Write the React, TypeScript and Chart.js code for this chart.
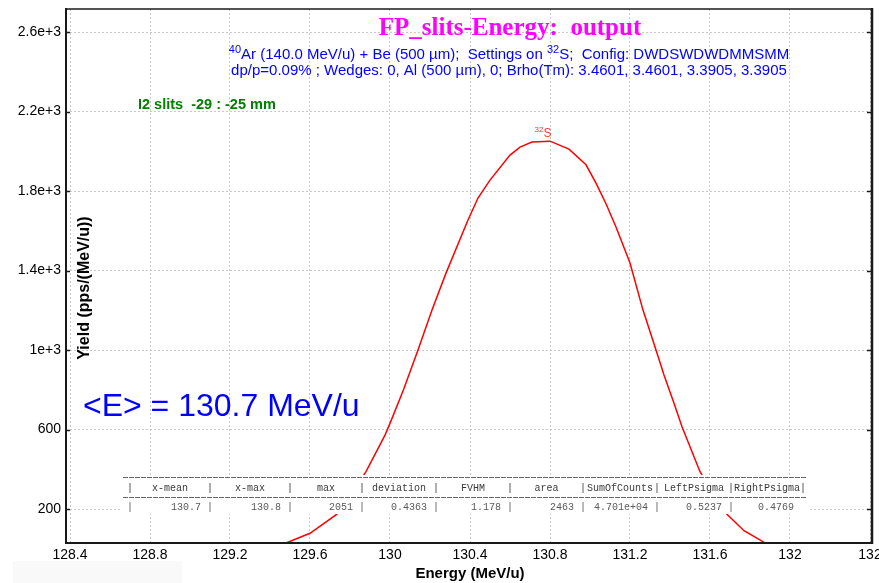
import React, { useEffect, useRef } from "react";
import { Chart, registerables } from "chart.js";

Chart.register(...registerables);

// ---- data ----
const energy = [
  129.4, 129.483, 129.6, 129.733, 129.88, 129.975, 130.0, 130.067, 130.14, 130.21,
  130.28, 130.39, 130.44, 130.5, 130.6, 130.65, 130.71, 130.8, 130.895, 130.98,
  131.03, 131.08, 131.13, 131.2, 131.265, 131.33, 131.37, 131.42, 131.46, 131.55,
  131.68, 131.77, 131.875, 131.95,
];
const yieldValues = [
  5, 30, 78, 173, 388, 572, 631, 799, 1000, 1201,
  1387, 1654, 1765, 1855, 1981, 2021, 2047, 2051, 2011, 1932,
  1840, 1736, 1619, 1438, 1201, 1000, 874, 732, 614, 388,
  178, 91, 30, 8,
];
const xTickValues = [128.4, 128.8, 129.2, 129.6, 130, 130.4, 130.8, 131.2, 131.6, 132, 132.4];
const xTickLabels = ["128.4", "128.8", "129.2", "129.6", "130", "130.4", "130.8", "131.2", "131.6", "132", "132"];
const yTickValues = [200, 600, 1000, 1400, 1800, 2200, 2600];
const yTickLabels = ["200", "600", "1e+3", "1.4e+3", "1.8e+3", "2.2e+3", "2.6e+3"];
const tableHeaders = ["x-mean", "x-max", "max", "deviation", "FVHM", "area", "SumOfCounts", "LeftPsigma", "RightPsigma"];
const tableValues = ["130.7", "130.8", "2051", "0.4363", "1.178", "2463", "4.701e+04", "0.5237", "0.4769"];
const peakX = 130.765;
const peakY = 2051;

const titleText = "FP_slits-Energy:  output";
const subLine1: [string, boolean][] = [
  ["40", true],
  ["Ar (140.0 MeV/u) + Be (500 µm);  Settings on ", false],
  ["32", true],
  ["S;  Config: DWDSWDWDMMSMM", false],
];
const subLine2 = "dp/p=0.09% ; Wedges: 0, Al (500 µm), 0; Brho(Tm): 3.4601, 3.4601, 3.3905, 3.3905";
const slitsText = "I2 slits  -29 : -25 mm";
const meanText = "<E> = 130.7 MeV/u";
const xTitle = "Energy (MeV/u)";
const yTitle = "Yield (pps/(MeV/u))";

const SANS = "'Liberation Sans', Arial, sans-serif";
const MONO = "'Liberation Mono', 'DejaVu Sans Mono', monospace";

function drawRuns(
  ctx: CanvasRenderingContext2D,
  runs: [string, boolean][],
  cx: number,
  baseline: number,
  size: number,
  color: string
) {
  const big = `${size}px ${SANS}`;
  const small = `${Math.round(size * 0.7)}px ${SANS}`;
  let total = 0;
  for (const [t, sup] of runs) {
    ctx.font = sup ? small : big;
    total += ctx.measureText(t).width;
  }
  let x = cx - total / 2;
  ctx.fillStyle = color;
  ctx.textAlign = "left";
  ctx.textBaseline = "alphabetic";
  for (const [t, sup] of runs) {
    ctx.font = sup ? small : big;
    ctx.fillText(t, x, sup ? baseline - size * 0.42 : baseline);
    x += ctx.measureText(t).width;
  }
}

const decorPlugin = {
  id: "decor",
  beforeDraw(chart: any) {
    const ctx = chart.ctx as CanvasRenderingContext2D;
    ctx.save();
    ctx.fillStyle = "#ffffff";
    ctx.fillRect(0, 0, chart.width, chart.height);
    ctx.fillStyle = "#f9f9f9";
    ctx.fillRect(13, 561, 169, 22);
    ctx.restore();
  },
  afterDatasetsDraw(chart: any) {
    const ctx = chart.ctx as CanvasRenderingContext2D;
    const xs = chart.scales.x;
    const ys = chart.scales.y;
    ctx.save();
    // peak label
    const px = xs.getPixelForValue(peakX);
    const py = ys.getPixelForValue(peakY);
    drawRuns(ctx, [["32", true], ["S", false]], px, py - 4, 12, "#f03c3c");

    // statistics table
    const left = 122;
    const right = 808;
    ctx.fillStyle = "#ffffff";
    ctx.fillRect(left, 475, right - left, 39);
    ctx.strokeStyle = "#666666";
    ctx.lineWidth = 1;
    ctx.setLineDash([5, 1]);
    for (const yy of [477.5, 497.5]) {
      ctx.beginPath();
      ctx.moveTo(123, yy);
      ctx.lineTo(807, yy);
      ctx.stroke();
    }
    ctx.setLineDash([]);
    const seps = [130, 210, 290, 362, 436, 510, 583, 657, 731, 803];
    ctx.font = `10px ${MONO}`;
    ctx.textBaseline = "middle";
    ctx.fillStyle = "#3a3a3a";
    ctx.textAlign = "center";
    for (const s of seps) ctx.fillText("|", s, 488);
    tableHeaders.forEach((h, i) => {
      ctx.fillText(h, (seps[i] + seps[i + 1]) / 2, 488);
    });
    ctx.fillStyle = "#5a5a5a";
    for (let i = 0; i < seps.length - 1; i++) ctx.fillText("|", seps[i], 507.5);
    ctx.textAlign = "right";
    tableValues.forEach((v, i) => {
      ctx.fillText(v, seps[i + 1] - 9, 507.5);
    });
    ctx.restore();
  },
  afterDraw(chart: any) {
    const ctx = chart.ctx as CanvasRenderingContext2D;
    const ys = chart.scales.y;
    ctx.save();
    // frame
    ctx.strokeStyle = "#1a1a1a";
    ctx.lineWidth = 1.5;
    ctx.beginPath();
    ctx.moveTo(65, 9);
    ctx.lineTo(873, 9);
    ctx.stroke();
    ctx.lineWidth = 2.5;
    ctx.beginPath();
    ctx.moveTo(872, 8);
    ctx.lineTo(872, 544);
    ctx.stroke();
    ctx.lineWidth = 2;
    ctx.beginPath();
    ctx.moveTo(66, 8);
    ctx.lineTo(66, 544);
    ctx.moveTo(65, 543);
    ctx.lineTo(873, 543);
    ctx.stroke();
    // small inward ticks
    ctx.lineWidth = 1.5;
    ctx.beginPath();
    for (const v of yTickValues) {
      const y = Math.round(ys.getPixelForValue(v)) + 0.5;
      ctx.moveTo(66, y);
      ctx.lineTo(70, y);
      ctx.moveTo(867, y);
      ctx.lineTo(872, y);
    }
    ctx.stroke();

    // texts
    ctx.textAlign = "center";
    ctx.textBaseline = "alphabetic";
    ctx.fillStyle = "#ff00ff";
    ctx.font = `bold 25px 'Liberation Serif', 'Times New Roman', serif`;
    ctx.fillText(titleText, 510, 35);

    drawRuns(ctx, subLine1, 509, 59, 15, "#0000ff");
    ctx.fillStyle = "#0000ff";
    ctx.font = `15px ${SANS}`;
    ctx.textAlign = "center";
    ctx.fillText(subLine2, 509, 75);

    ctx.fillStyle = "#008000";
    ctx.font = `bold 14.5px ${SANS}`;
    ctx.textAlign = "left";
    ctx.fillText(slitsText, 138, 109);

    ctx.fillStyle = "#0000ff";
    ctx.font = `32px ${SANS}`;
    ctx.fillText(meanText, 83, 416);

    ctx.fillStyle = "#000000";
    ctx.font = `bold 15px ${SANS}`;
    ctx.textAlign = "center";
    ctx.fillText(xTitle, 470, 578);

    ctx.translate(89, 288);
    ctx.rotate(-Math.PI / 2);
    ctx.font = `bold 16px ${SANS}`;
    ctx.fillText(yTitle, 0, 0);
    ctx.restore();
  },
};

export default function App() {
  const ref = useRef<HTMLCanvasElement | null>(null);

  useEffect(() => {
    document.body.style.margin = "0";
    const canvas = ref.current;
    if (!canvas) return;
    const chart = new Chart(canvas, {
      type: "line",
      data: {
        datasets: [
          {
            data: energy.map((x, i) => ({ x, y: yieldValues[i] })),
            borderColor: "#ff0000",
            borderWidth: 1.5,
            pointRadius: 0,
            tension: 0,
            fill: false,
          },
        ],
      },
      options: {
        responsive: false,
        animation: false,
        devicePixelRatio: 1,
        layout: { padding: { top: 9, right: 9, left: 0, bottom: 0 } },
        plugins: {
          legend: { display: false },
          tooltip: { enabled: false },
          title: { display: false },
        },
        scales: {
          x: {
            type: "linear",
            min: 128.4,
            max: 132.4,
            afterBuildTicks: (s: any) => {
              s.ticks = xTickValues.map((v) => ({ value: v }));
            },
            afterFit: (s: any) => {
              s.height = 40;
              s.paddingLeft = 0;
              s.paddingRight = 0;
            },
            ticks: {
              callback: (_v: any, i: number) => xTickLabels[i],
              autoSkip: false,
              maxRotation: 0,
              minRotation: 0,
              padding: 4,
              color: "#000000",
              font: { family: SANS, size: 14 },
            },
            grid: { color: "#c8c8c8", lineWidth: 1, drawTicks: false },
            border: { display: false, dash: [2, 2] },
          },
          y: {
            type: "linear",
            min: 29,
            max: 2716,
            afterBuildTicks: (s: any) => {
              s.ticks = yTickValues.map((v) => ({ value: v }));
            },
            afterFit: (s: any) => {
              s.width = 70;
              s.paddingTop = 0;
              s.paddingBottom = 0;
            },
            ticks: {
              callback: (_v: any, i: number) => yTickLabels[i],
              autoSkip: false,
              padding: 9,
              color: "#000000",
              font: { family: SANS, size: 14 },
            },
            grid: { color: "#c8c8c8", lineWidth: 1, drawTicks: false },
            border: { display: false, dash: [2, 2] },
          },
        },
      },
      plugins: [decorPlugin],
    } as any);
    return () => chart.destroy();
  }, []);

  return (
    <div style={{ position: "fixed", left: 0, top: 0, width: 879, height: 583, background: "#fff" }}>
      <canvas ref={ref} width={879} height={583} style={{ display: "block", width: 879, height: 583 }} />
    </div>
  );
}
